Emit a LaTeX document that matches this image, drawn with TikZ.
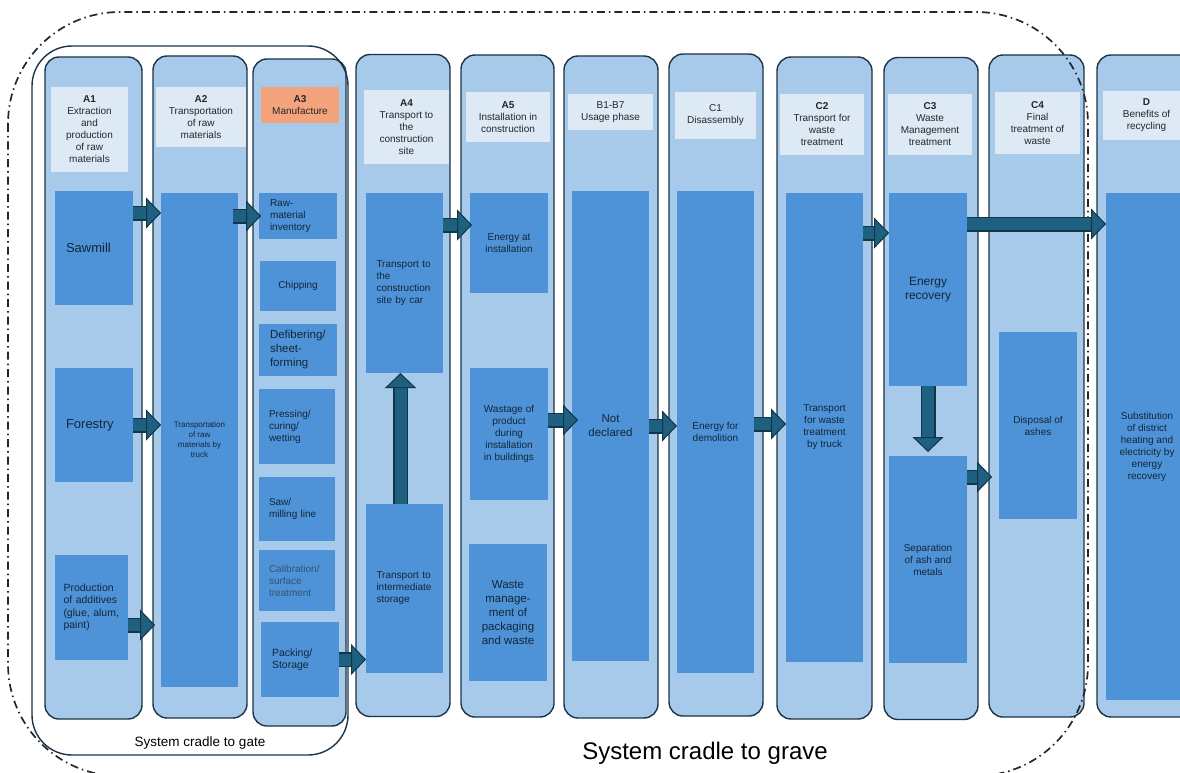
\documentclass[tikz,border=0pt]{standalone}
\usepackage{fontspec}
\setmainfont{Liberation Sans}
\usepackage{tikz}
\usetikzlibrary{arrows.meta}

\definecolor{colfill}{HTML}{A7C9EA}
\definecolor{coledge}{HTML}{1B3447}
\definecolor{boxfill}{HTML}{4E93D8}
\definecolor{headfill}{HTML}{DDEAF6}
\definecolor{mfgfill}{HTML}{F3A47D}
\definecolor{flowfill}{HTML}{1F6080}
\definecolor{flowedge}{HTML}{10364A}
\definecolor{boxtext}{HTML}{13263A}
\definecolor{calibtext}{HTML}{34536F}

\tikzset{
    col/.style={draw=coledge, fill=colfill, line width=1.4pt, rounded corners=14pt,
        minimum width=94pt, minimum height=662pt, inner sep=0pt, outer sep=0pt},
    head/.style={fill=headfill, inner sep=0pt, minimum width=84pt, align=center,
        text=black!85, font=\fontsize{10}{12}\selectfont},
    box/.style={fill=boxfill, inner sep=0pt, outer sep=0pt, minimum width=78pt, align=center,
        text=boxtext, font=\fontsize{10}{12}\selectfont},
    leftbox/.style={box, text width=56pt, align=left},
    flow/.style={draw=flowfill, line width=12pt,
        -{Triangle[length=15pt, width=31pt, fill=flowfill, color=flowedge, line width=1pt]},
        preaction={draw=flowedge, line width=15pt, -, shorten >=14pt}},
    gatebound/.style={draw=coledge, line width=1.4pt, rounded corners=40pt},
    gravebound/.style={draw=black!85, line width=1.7pt, rounded corners=112pt,
        dash pattern=on 8pt off 4pt on 1.5pt off 4pt}
}

\begin{document}
\begin{tikzpicture}[x=1pt, y=-1pt]
        \clip (0,0) rectangle (1180,773);

        % life cycle stages
        \draw (93.5,388) node[col, minimum width=97pt](a1){};
        \draw (200,387) node[col](a2){};
        \draw (299.5,392.5) node[col, minimum width=93pt, minimum height=667pt](a3){};
        \draw (403,385.5) node[col](a4){};
        \draw (507.5,386) node[col, minimum width=93pt](a5){};
        \draw (611,387) node[col](b){};
        \draw (716,385) node[col](c1){};
        \draw (824.5,388) node[col, minimum width=95pt](c2){};
        \draw (931,388.5) node[col](c3){};
        \draw (1036.5,386) node[col, minimum width=95pt](c4){};
        \draw (1146,386) node[col, minimum width=98pt](d){};

        % stage titles
        \draw (89.5,129.5) node[head, minimum width=77pt, minimum height=85pt](ha1){\textbf{A1}\\Extraction\\and\\production\\of raw\\materials};
        \draw (201,117) node[head, minimum width=90pt, minimum height=60pt](ha2){\textbf{A2}\\Transportation\\of raw\\materials};
        \draw (300,105) node[head, fill=mfgfill, minimum width=78pt, minimum height=36pt](ha3){\textbf{A3}\\Manufacture};
        \draw (406.5,127) node[head, minimum width=85pt, minimum height=74pt](ha4){\textbf{A4}\\Transport to\\the\\construction\\site};
        \draw (508,117) node[head, minimum height=50pt](ha5){\textbf{A5}\\Installation in\\construction};
        \draw (610.5,112) node[head, minimum width=85pt, minimum height=36pt](hb){B1-B7\\Usage phase};
        \draw (715.5,115.5) node[head, minimum width=81pt, minimum height=47pt](hc1){C1\\Disassembly};
        \draw (822,124.5) node[head, minimum height=61pt](hc2){\textbf{C2}\\Transport for\\waste\\treatment};
        \draw (930,124.5) node[head, minimum height=61pt](hc3){\textbf{C3}\\Waste\\Management\\treatment};
        \draw (1037.5,123) node[head, minimum width=85pt, minimum height=62pt](hc4){\textbf{C4}\\Final\\treatment of\\waste};
        \draw (1146.5,115.5) node[head, minimum width=87pt, minimum height=49pt](hd){\textbf{D}\\Benefits of\\recycling};

        % A1 - A3
        \draw (94,248) node[leftbox, minimum height=114pt, font=\fontsize{13}{15}\selectfont](sawmill){Sawmill};
        \draw (94,425) node[leftbox, minimum height=114pt, font=\fontsize{13}{15}\selectfont](forestry){Forestry};
        \draw (91.5,607.5) node[leftbox, minimum width=73pt, minimum height=105pt, font=\fontsize{10.5}{12.5}\selectfont](production){Production\\of additives\\(glue, alum,\\paint)};
        \draw (199.5,440) node[box, minimum width=77pt, minimum height=494pt, font=\fontsize{8}{10}\selectfont](a2box){Transportation\\of raw\\materials by\\truck};
        \draw (298,216) node[leftbox, minimum height=46pt](rawmat){Raw-\\material\\inventory};
        \draw (298,286) node[box, minimum width=76pt, minimum height=50pt](chipping){Chipping};
        \draw (298,350) node[leftbox, minimum height=52pt, font=\fontsize{11.5}{14}\selectfont](defib){Defibering/\\sheet-\\forming};
        \draw (297,426.5) node[leftbox, minimum width=76pt, minimum height=75pt](pressing){Pressing/\\curing/\\wetting};
        \draw (297,509) node[leftbox, minimum width=76pt, minimum height=64pt](saw){Saw/\\milling line};
        \draw (297,580.5) node[leftbox, minimum width=76pt, minimum height=61pt, text=calibtext](calib){Calibration/\\surface\\treatment};
        \draw (300,659.5) node[leftbox, minimum height=75pt, font=\fontsize{10.5}{12}\selectfont](packing){Packing/\\Storage};

        % A4 - A5
        \draw (404.5,283) node[leftbox, minimum width=77pt, minimum height=180pt](a4top){Transport to\\the\\construction\\site by car};
        \draw (404.5,588.5) node[leftbox, minimum width=77pt, minimum height=169pt](a4bot){Transport to\\intermediate\\storage};
        \draw (509,243) node[box, minimum height=100pt](energyinst){Energy at\\installation};
        \draw (509,434) node[box, minimum height=132pt](wastage){Wastage of\\product\\during\\installation\\in buildings};
        \draw (508,612.5) node[box, minimum height=137pt, font=\fontsize{11.5}{14}\selectfont](wastemgmt){Waste\\manage-\\ment of\\packaging\\and waste};

        % B - D
        \draw (610.5,426) node[box, minimum width=77pt, minimum height=470pt, font=\fontsize{11.5}{14}\selectfont](notdecl){Not\\declared};
        \draw (715.5,432) node[box, minimum width=77pt, minimum height=482pt](c1box){Energy for\\demolition};
        \draw (824.5,427.5) node[box, minimum width=77pt, minimum height=469pt](c2box){Transport\\for waste\\treatment\\by truck};
        \draw (928,289.5) node[box, minimum height=193pt, font=\fontsize{12}{14}\selectfont](energyrec){Energy\\recovery};
        \draw (928,559.5) node[box, minimum height=207pt](separation){Separation\\of ash and\\metals};
        \draw (1038,425.5) node[box, minimum height=187pt](disposal){Disposal of\\ashes};
        \draw (1147,446.5) node[box, minimum width=82pt, minimum height=507pt](dbox){Substitution\\of district\\heating and\\electricity by\\energy\\recovery};

        % system boundaries
        \draw[gatebound] (32,46) rectangle (348,755);
        \draw[gravebound] (8,12) rectangle (1088,776);
        \draw (200,743) node[font=\fontsize{13.5}{16}\selectfont](gatelbl){System cradle to gate};
        \draw (705,753) node[font=\fontsize{24}{28}\selectfont](gravelbl){System cradle to grave};

        % flows
        \coordinate (f1) at ([yshift=-22pt]sawmill.north east);
        \coordinate (f4) at ([yshift=-70pt]production.north east);
        \coordinate (f7) at ([yshift=-32pt]a4top.north east);
        \coordinate (f8) at ([yshift=-52pt]wastage.north east);
        \coordinate (f10) at ([yshift=-233pt]c1box.north east);
        \coordinate (f11) at ([yshift=-40pt]c2box.north east);
        \coordinate (f12) at ([yshift=-31pt]energyrec.north east);
        \coordinate (f14) at ([yshift=-21pt]separation.north east);

        \draw[flow] (f1) -- (f1 -| a2box.west);
        \draw[flow] ([xshift=-5pt]rawmat.west -| a2box.east) -- ([xshift=2pt]rawmat.west);
        \draw[flow] (forestry.east) -- (forestry.east -| a2box.west);
        \draw[flow] (f4) -- ([xshift=-6pt]f4 -| a2box.west);
        \draw[flow] (packing.east) -- (packing.east -| a4bot.west);
        \draw[flow] ([xshift=-4pt]a4bot.north) -- ([xshift=-4pt]a4top.south);
        \draw[flow] (f7) -- ([xshift=2pt]f7 -| energyinst.west);
        \draw[flow] (f8) -- ([xshift=6pt]f8 -| notdecl.west);
        \draw[flow] (notdecl.east) -- (notdecl.east -| c1box.west);
        \draw[flow] (f10) -- (f10 -| c2box.west);
        \draw[flow] (f11) -- (f11 -| energyrec.west);
        \draw[flow] (f12) -- (f12 -| dbox.west);
        \draw[flow] (energyrec.south) -- ([yshift=4pt]separation.north);
        \draw[flow] (f14) -- ([xshift=3pt]f14 -| c4.west);
    \end{tikzpicture}
\end{document}
